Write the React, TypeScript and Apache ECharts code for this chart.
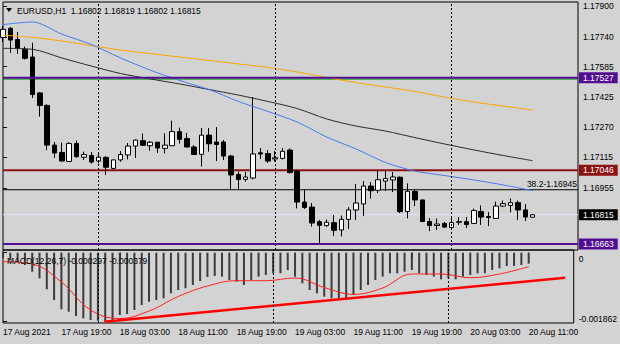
import React, { useEffect, useRef } from 'react';
import * as echarts from 'echarts';

// ---------- DATA ----------
const symbolTitle = 'EURUSD,H1  1.16802 1.16819 1.16802 1.16815';
const macdTitle = 'MACD(12,26,7) -0.000297 -0.000379';

const timeLabels = ['17 Aug 2021', '17 Aug 19:00', '18 Aug 03:00', '18 Aug 11:00', '18 Aug 19:00', '19 Aug 03:00', '19 Aug 11:00', '19 Aug 19:00', '20 Aug 03:00', '20 Aug 11:00'];
const timeTickIdx = [0, 8, 16, 24, 32, 40, 48, 56, 64, 72];
const daySeparatorIdx = [13, 37, 61];

const priceTicks = [1.179, 1.1774, 1.17585, 1.17425, 1.1727, 1.17115, 1.16955];
const macdTicks = [0, -0.001862];

const opens = [1.17736, 1.17784, 1.17726, 1.17675, 1.17635, 1.17448, 1.17383, 1.17177, 1.17139, 1.17092, 1.17185, 1.17114, 1.17123, 1.17094, 1.17113, 1.17056, 1.171, 1.17126, 1.17172, 1.172, 1.17174, 1.17192, 1.1716, 1.17174, 1.17247, 1.17211, 1.17167, 1.17129, 1.17229, 1.17193, 1.17193, 1.1712, 1.17024, 1.16999, 1.17006, 1.17137, 1.17133, 1.17105, 1.17108, 1.17151, 1.17042, 1.16881, 1.16855, 1.16779, 1.16759, 1.16774, 1.16736, 1.16791, 1.1684, 1.16871, 1.16964, 1.16942, 1.1699, 1.16996, 1.1701, 1.16832, 1.16936, 1.16892, 1.1678, 1.16759, 1.1677, 1.16749, 1.16776, 1.16779, 1.1677, 1.16832, 1.16806, 1.16796, 1.1686, 1.16863, 1.16878, 1.1684, 1.16802];
const highs = [1.17796, 1.17791, 1.17765, 1.17689, 1.17709, 1.17453, 1.17391, 1.17193, 1.1719, 1.17193, 1.172, 1.17143, 1.17141, 1.17136, 1.1712, 1.17102, 1.17146, 1.17188, 1.17206, 1.17237, 1.17198, 1.17193, 1.17238, 1.17304, 1.17268, 1.1724, 1.17177, 1.17266, 1.17266, 1.17271, 1.17203, 1.17126, 1.17039, 1.17037, 1.17427, 1.17162, 1.17151, 1.17146, 1.17162, 1.1716, 1.17048, 1.16944, 1.16876, 1.16788, 1.1679, 1.16814, 1.16811, 1.16854, 1.16975, 1.1699, 1.16985, 1.17048, 1.17042, 1.17037, 1.17014, 1.16978, 1.16949, 1.16894, 1.16798, 1.16795, 1.16777, 1.16798, 1.16803, 1.16803, 1.16847, 1.16863, 1.16829, 1.16883, 1.16889, 1.169, 1.16889, 1.16871, 1.16819];
const lows = [1.17713, 1.17656, 1.17651, 1.17622, 1.17422, 1.17325, 1.17151, 1.1711, 1.17092, 1.17091, 1.17111, 1.171, 1.17081, 1.17082, 1.17022, 1.17053, 1.17091, 1.17103, 1.1711, 1.17172, 1.17148, 1.17136, 1.17134, 1.17172, 1.17185, 1.17166, 1.17126, 1.17066, 1.17143, 1.17094, 1.171, 1.16949, 1.16947, 1.16987, 1.16999, 1.17105, 1.17084, 1.17091, 1.17103, 1.1703, 1.16848, 1.16845, 1.16754, 1.16668, 1.16751, 1.16704, 1.16702, 1.16741, 1.16788, 1.16808, 1.16899, 1.16928, 1.16938, 1.16933, 1.16824, 1.16796, 1.1686, 1.16777, 1.1673, 1.16736, 1.16746, 1.16738, 1.16762, 1.16746, 1.16767, 1.16762, 1.16756, 1.16793, 1.16855, 1.16827, 1.16788, 1.16782, 1.16802];
const closes = [1.17779, 1.17723, 1.1768, 1.17628, 1.1744, 1.17383, 1.17177, 1.17136, 1.17094, 1.17185, 1.17117, 1.17128, 1.17089, 1.17115, 1.17062, 1.171, 1.17128, 1.17172, 1.17203, 1.17176, 1.17192, 1.17162, 1.17177, 1.17247, 1.17207, 1.17167, 1.17128, 1.17229, 1.17184, 1.1718, 1.1712, 1.17022, 1.16998, 1.17011, 1.17131, 1.17131, 1.17094, 1.17111, 1.17145, 1.17034, 1.16881, 1.16853, 1.16772, 1.1676, 1.16776, 1.16734, 1.16791, 1.1684, 1.16876, 1.16964, 1.1694, 1.16997, 1.17003, 1.17011, 1.16831, 1.16937, 1.16892, 1.1678, 1.16759, 1.16767, 1.16751, 1.16774, 1.16779, 1.16764, 1.16837, 1.16803, 1.16801, 1.1686, 1.16873, 1.16878, 1.1684, 1.16803, 1.16815];

// moving averages, sampled every 4 bars
const maIdx = [0, 4, 8, 12, 16, 20, 24, 28, 32, 36, 40, 44, 48, 52, 56, 60, 64, 68, 72];
const maBlue = [1.17803, 1.17817, 1.17754, 1.177, 1.1763, 1.17567, 1.17513, 1.17466, 1.17404, 1.17352, 1.17297, 1.17219, 1.17157, 1.17087, 1.17042, 1.17019, 1.16996, 1.1697, 1.1694];
const maOrange = [1.17748, 1.17737, 1.17718, 1.17695, 1.17671, 1.17653, 1.17635, 1.17617, 1.17599, 1.17581, 1.17557, 1.17528, 1.17502, 1.17479, 1.17456, 1.17427, 1.17401, 1.1738, 1.17359];
const maBlack = [1.1768, 1.17675, 1.1763, 1.17588, 1.17549, 1.17521, 1.17495, 1.17466, 1.17437, 1.17404, 1.17367, 1.17313, 1.17276, 1.1725, 1.17216, 1.17183, 1.17152, 1.17123, 1.17096];

// horizontal levels
const levelPurpleTop = 1.17527;
const levelGreen = 1.1752;
const levelRed = 1.17046;
const levelFib = 1.16945;
const levelBid = 1.16815;
const levelPurpleBottom = 1.16663;

// MACD
const macdHist = [-0.000143, -0.000198, -0.000252, -0.000333, -0.000514, -0.000693, -0.00099, -0.00128, -0.001532, -0.001597, -0.001713, -0.001775, -0.001821, -0.00184, -0.001862, -0.001821, -0.001686, -0.001659, -0.001551, -0.001415, -0.001326, -0.00128, -0.001234, -0.001099, -0.001009, -0.000963, -0.000874, -0.000766, -0.000658, -0.000631, -0.000649, -0.000739, -0.000785, -0.000874, -0.000739, -0.000649, -0.000603, -0.000557, -0.000557, -0.000468, -0.000649, -0.000828, -0.001009, -0.001099, -0.001191, -0.001234, -0.001261, -0.001234, -0.001145, -0.001009, -0.000874, -0.000739, -0.000649, -0.000557, -0.000557, -0.000514, -0.000468, -0.000557, -0.000603, -0.000649, -0.00072, -0.000693, -0.00072, -0.000649, -0.000603, -0.000557, -0.000557, -0.000468, -0.000422, -0.00036, -0.00036, -0.000333, -0.000297];
const signalIdx = [0, 4, 8, 12, 16, 20, 24, 28, 32, 36, 40, 44, 48, 52, 56, 60, 64, 68, 72];
const signalVals = [-0.000244, -0.000306, -0.000793, -0.001551, -0.001781, -0.001578, -0.001185, -0.000901, -0.000758, -0.000758, -0.000685, -0.000942, -0.001126, -0.000955, -0.000576, -0.000576, -0.000677, -0.000576, -0.000379];
const trendX = [13.9, 77.0];
const trendY = [-0.00187, -0.00068];

// ---------- STYLE ----------
const BG = '#d3d3d3';
const FONT = '"Liberation Sans", Arial, sans-serif';
const FS = 8.5;
const PURPLE = '#520e92';
const DARKRED = '#8c1212';

const X_MIN = 0;
const X_MAX = 78.17;
const Y_MIN = 1.166318;
const Y_MAX = 1.179208;
const M_MIN = -0.0019023;
const M_MAX = 0.0000731;

function levelSeries(value: number, color: string, width: number, label: any, z = 2) {
  return {
    type: 'line', xAxisIndex: 0, yAxisIndex: 0, showSymbol: false, silent: true, z,
    data: [[X_MIN, value], [X_MAX, value]],
    lineStyle: { color, width, type: 'solid' },
    endLabel: label,
  };
}

function boxLabel(value: number, bg: string) {
  return {
    show: true,
    distance: 1,
    formatter: value.toFixed(5),
    backgroundColor: bg,
    color: '#fff',
    padding: [1, 4, 1, 4],
    fontSize: FS,
    fontFamily: FONT,
  };
}

export default function App() {
  const ref = useRef<HTMLDivElement>(null);
  useEffect(() => {
    if (!ref.current) return;
    const chart = echarts.init(ref.current, undefined, { renderer: 'svg' });
    const candles = opens.map((o, i) => [i, o, closes[i], lows[i], highs[i]]);
    const sep = daySeparatorIdx.map((v) => ({ xAxis: v }));
    const sepStyle = { color: '#000', width: 1, type: [2, 2] };
    const option: any = {
      animation: false,
      backgroundColor: BG,
      textStyle: { fontFamily: FONT },
      grid: [
        { left: 3, top: 2, width: 575, height: 248, show: true, borderColor: '#000', borderWidth: 1, backgroundColor: 'transparent' },
        { left: 3, top: 250, width: 575, height: 73, show: true, borderColor: '#000', borderWidth: 1, backgroundColor: 'transparent' },
      ],
      xAxis: [
        {
          type: 'value', gridIndex: 0, min: X_MIN, max: X_MAX,
          axisLine: { show: false }, axisTick: { show: false }, axisLabel: { show: false }, splitLine: { show: false },
        },
        {
          type: 'value', gridIndex: 1, min: X_MIN, max: X_MAX, position: 'bottom',
          axisLine: { show: false },
          axisTick: { show: true, customValues: timeTickIdx, length: 5, lineStyle: { color: '#000' } },
          axisLabel: {
            show: true, customValues: timeTickIdx, align: 'left', margin: 4, color: '#000', fontSize: FS, fontFamily: FONT,
            formatter: (v: number) => timeLabels[timeTickIdx.indexOf(Math.round(v))] ?? '',
          },
          splitLine: { show: false },
        },
      ],
      yAxis: [
        {
          type: 'value', gridIndex: 0, position: 'right', min: Y_MIN, max: Y_MAX,
          axisLine: { show: false },
          axisTick: { show: true, customValues: priceTicks, length: 4, lineStyle: { color: '#000' } },
          axisLabel: { show: true, customValues: priceTicks, margin: 5, color: '#000', fontSize: FS, fontFamily: FONT, formatter: (v: number) => v.toFixed(5) },
          splitLine: { show: false },
        },
        {
          type: 'value', gridIndex: 1, position: 'right', min: M_MIN, max: M_MAX,
          axisLine: { show: false },
          axisTick: { show: true, customValues: macdTicks, length: 4, lineStyle: { color: '#000' } },
          axisLabel: {
            show: true, customValues: macdTicks, margin: 5, color: '#000', fontSize: FS, fontFamily: FONT,
            formatter: (v: number) => (Math.abs(v) < 1e-9 ? '{a|0}' : '{b|' + v.toFixed(6) + '}'),
            rich: {
              a: { fontSize: FS, fontFamily: FONT, color: '#000', padding: [13, 0, 0, 0] },
              b: { fontSize: FS, fontFamily: FONT, color: '#000', padding: [0, 0, 5, 0] },
            },
          },
          splitLine: { show: false },
        },
      ],
      series: [
        levelSeries(levelBid, '#e6e0f6', 1, boxLabel(levelBid, '#000')),
        levelSeries(levelGreen, '#00a000', 1, { show: false }),
        levelSeries(levelPurpleTop, PURPLE, 2, boxLabel(levelPurpleTop, PURPLE), 6),
        levelSeries(levelRed, DARKRED, 2, boxLabel(levelRed, DARKRED)),
        levelSeries(levelFib, '#000', 1, {
          show: true, formatter: '38.2-' + levelFib.toFixed(5), color: '#000', fontSize: FS, fontFamily: FONT,
          distance: 0, align: 'right', verticalAlign: 'bottom', offset: [-1, -1],
        }),
        levelSeries(levelPurpleBottom, PURPLE, 2, boxLabel(levelPurpleBottom, PURPLE), 6),
        {
          type: 'candlestick', xAxisIndex: 0, yAxisIndex: 0, barWidth: 5, data: candles, clip: true, z: 3,
          itemStyle: { color: '#ffffff', color0: '#000000', borderColor: '#000000', borderColor0: '#000000', borderWidth: 1 },
          markLine: {
            silent: true, symbol: ['none', 'none'], animation: false,
            data: sep.map((d) => ({ ...d, lineStyle: sepStyle, label: { show: false } })),
          },
        },
        { type: 'line', xAxisIndex: 0, yAxisIndex: 0, showSymbol: false, smooth: 0.3, z: 4, data: maIdx.map((x, k) => [x, maOrange[k]]), lineStyle: { color: '#ffa500', width: 1 } },
        { type: 'line', xAxisIndex: 0, yAxisIndex: 0, showSymbol: false, smooth: 0.3, z: 4, data: maIdx.map((x, k) => [x, maBlack[k]]), lineStyle: { color: '#2b2b2b', width: 1 } },
        { type: 'line', xAxisIndex: 0, yAxisIndex: 0, showSymbol: false, smooth: 0.3, z: 4, data: maIdx.map((x, k) => [x, maBlue[k]]), lineStyle: { color: '#4a78ee', width: 1 } },
        {
          type: 'bar', xAxisIndex: 1, yAxisIndex: 1, barWidth: 2, data: macdHist.map((v, i) => [i, v]),
          itemStyle: { color: '#3c3c3c' },
          markLine: { silent: true, symbol: ['none', 'none'], data: sep.map((d) => ({ ...d, lineStyle: sepStyle, label: { show: false } })) },
        },
        { type: 'line', xAxisIndex: 1, yAxisIndex: 1, showSymbol: false, smooth: 0.4, data: signalIdx.map((x, k) => [x, signalVals[k]]), lineStyle: { color: '#ff2020', width: 1 } },
        { type: 'line', xAxisIndex: 1, yAxisIndex: 1, showSymbol: false, data: trendX.map((x, k) => [x, trendY[k]]), lineStyle: { color: '#ff0000', width: 2.5 } },
      ],
      graphic: [
        { type: 'polygon', z: 100, shape: { points: [[6, 8], [12, 8], [9, 12]] }, style: { fill: '#000' } },
        { type: 'text', z: 100, x: 17, y: 10.5, style: { text: symbolTitle, fill: '#000', fontSize: FS, fontFamily: FONT, verticalAlign: 'middle' } },
        { type: 'text', z: 100, x: 7, y: 260.5, style: { text: macdTitle, fill: '#000', fontSize: FS, fontFamily: FONT, verticalAlign: 'middle' } },
      ],
    };
    chart.setOption(option);
    return () => chart.dispose();
  }, []);
  return (
    <div style={{ position: 'fixed', left: 0, top: 0, width: 620, height: 344, background: BG }}>
      <div ref={ref} style={{ width: 620, height: 344 }} />
    </div>
  );
}
